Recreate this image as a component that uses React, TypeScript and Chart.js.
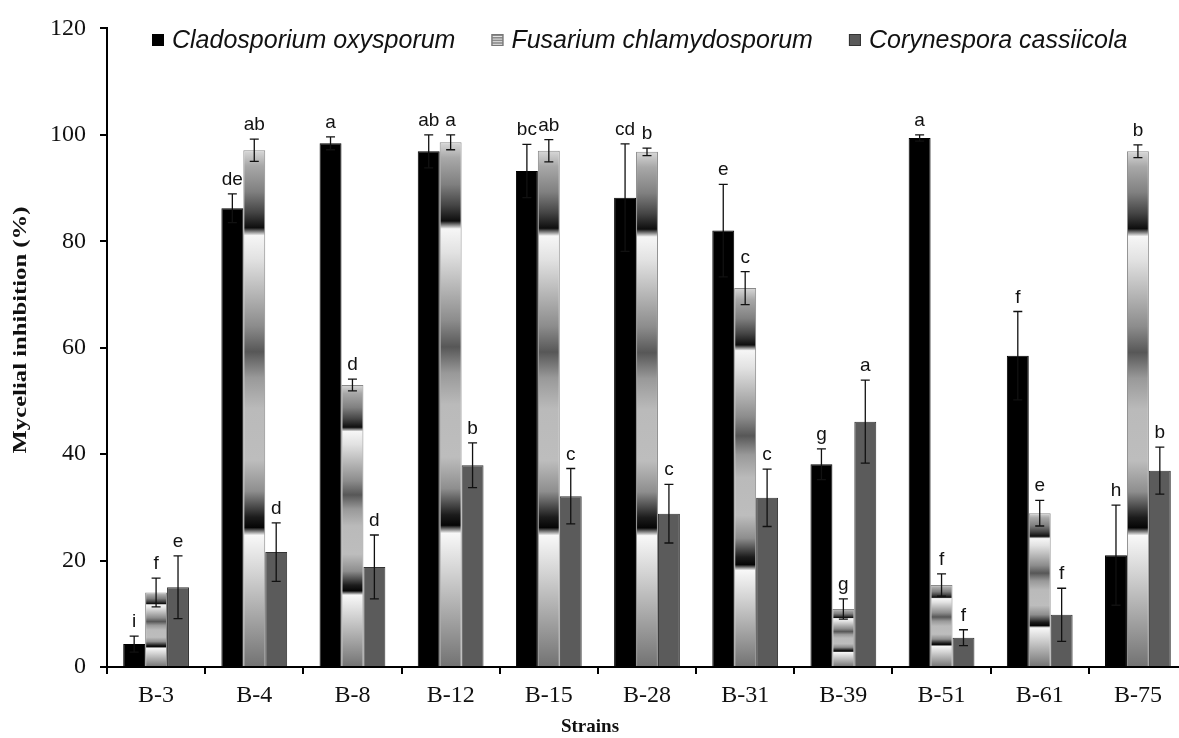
import React, { useEffect, useRef } from "react";
import { Chart, registerables } from "chart.js";

Chart.register(...registerables);

// ---------- data ----------
const strains = ["B-3", "B-4", "B-8", "B-12", "B-15", "B-28", "B-31", "B-39", "B-51", "B-61", "B-75"];
const seriesNames = ["Cladosporium oxysporum", "Fusarium chlamydosporum", "Corynespora cassiicola"];

const cladValues = [4.3, 86.2, 98.4, 96.9, 93.2, 88.2, 82.0, 38.1, 99.4, 58.5, 21.0];
const cladErrors = [1.5, 2.7, 1.2, 3.1, 5.0, 10.1, 8.7, 2.9, 0.6, 8.3, 9.4];
const cladLetters = ["i", "de", "a", "ab", "bc", "cd", "e", "g", "a", "f", "h"];

const fusValues = [14.0, 97.1, 53.0, 98.6, 97.0, 96.8, 71.2, 10.9, 15.4, 28.9, 96.9];
const fusErrors = [2.7, 2.1, 1.1, 1.4, 2.1, 0.7, 3.1, 1.9, 2.1, 2.4, 1.2];
const fusLetters = ["f", "ab", "d", "a", "ab", "b", "c", "g", "f", "e", "b"];

const corValues = [15.0, 21.6, 18.8, 37.9, 32.1, 28.8, 31.8, 46.1, 5.5, 9.8, 36.9];
const corErrors = [5.9, 5.5, 6.0, 4.2, 5.2, 5.5, 5.4, 7.8, 1.5, 5.0, 4.4];
const corLetters = ["e", "d", "d", "b", "c", "c", "c", "a", "f", "f", "b"];

const yMin = 0;
const yMax = 120;
const yStep = 20;

const xTitle = "Strains";
const yTitle = "Mycelial inhibition (%)";

// ---------- styles ----------
const SERIF = "'Liberation Serif', 'Times New Roman', serif";
const SANS = "'Liberation Sans', Arial, sans-serif";

const FUS_STOPS: [number, string][] = [
  [0.0, "#d8d8d8"],
  [0.03, "#a8a8a8"],
  [0.08, "#808080"],
  [0.12, "#454545"],
  [0.15, "#0e0e0e"],
  [0.165, "#f6f6f6"],
  [0.21, "#e2e2e2"],
  [0.28, "#b4b4b4"],
  [0.34, "#8c8c8c"],
  [0.39, "#575757"],
  [0.44, "#999999"],
  [0.5, "#bababa"],
  [0.6, "#bdbdbd"],
  [0.66, "#8e8e8e"],
  [0.71, "#1c1c1c"],
  [0.73, "#050505"],
  [0.745, "#f8f8f8"],
  [0.82, "#d2d2d2"],
  [0.91, "#a2a2a2"],
  [1.0, "#727272"],
];

const fusFill = (ctx: any) => {
  const chart = ctx.chart;
  const y = chart.scales && chart.scales.y;
  if (ctx.type !== "data" || !y || typeof ctx.raw !== "number") return "#9a9a9a";
  const top = y.getPixelForValue(ctx.raw);
  const bottom = y.getPixelForValue(0);
  if (!isFinite(top) || !isFinite(bottom) || bottom - top < 1) return "#9a9a9a";
  const g = chart.ctx.createLinearGradient(0, top, 0, bottom);
  FUS_STOPS.forEach(([o, c]) => g.addColorStop(o, c));
  return g;
};

const errorsBySeries = [cladErrors, fusErrors, corErrors];
const lettersBySeries = [cladLetters, fusLetters, corLetters];

const errorBarPlugin = {
  id: "errorBarsAndLetters",
  afterDatasetsDraw(chart: any) {
    const ctx = chart.ctx;
    const y = chart.scales.y;
    ctx.save();
    chart.data.datasets.forEach((ds: any, i: number) => {
      const meta = chart.getDatasetMeta(i);
      meta.data.forEach((bar: any, j: number) => {
        const v = ds.data[j] as number;
        const e = errorsBySeries[i][j];
        const x = bar.x;
        const yt = y.getPixelForValue(v + e);
        const yb = y.getPixelForValue(Math.max(0, v - e));
        ctx.strokeStyle = "#111";
        ctx.lineWidth = 1.3;
        ctx.beginPath();
        ctx.moveTo(x, yt);
        ctx.lineTo(x, yb);
        ctx.moveTo(x - 4.5, yt);
        ctx.lineTo(x + 4.5, yt);
        ctx.moveTo(x - 4.5, yb);
        ctx.lineTo(x + 4.5, yb);
        ctx.stroke();
        ctx.fillStyle = "#111";
        ctx.font = "19px " + SANS;
        ctx.textAlign = "center";
        ctx.textBaseline = "alphabetic";
        ctx.fillText(lettersBySeries[i][j], x, yt - 9);
      });
    });
    ctx.restore();
  },
};

const legendPlugin = {
  id: "insideLegend",
  afterDraw(chart: any) {
    const ctx = chart.ctx;
    const cy = 40;
    let x = 152;
    const box = 12;
    ctx.save();
    ctx.font = "italic 25px " + SANS;
    ctx.textBaseline = "middle";
    ctx.textAlign = "left";
    chart.data.datasets.forEach((ds: any, i: number) => {
      const bx = x;
      const by = cy - box / 2;
      if (i === 0) {
        ctx.fillStyle = "#000";
        ctx.fillRect(bx, by, box, box);
      } else if (i === 1) {
        ctx.fillStyle = "#8a8a8a";
        ctx.fillRect(bx, by, box, box);
        ctx.strokeStyle = "#e4e4e4";
        ctx.lineWidth = 1;
        for (let k = 2.5; k < box; k += 2.6) {
          ctx.beginPath();
          ctx.moveTo(bx + 1, by + k);
          ctx.lineTo(bx + box - 1, by + k);
          ctx.stroke();
        }
        ctx.strokeStyle = "#777";
        ctx.strokeRect(bx + 0.5, by + 0.5, box - 1, box - 1);
      } else {
        ctx.fillStyle = "#5a5a5a";
        ctx.fillRect(bx, by, box, box);
        ctx.strokeStyle = "#333";
        ctx.lineWidth = 1;
        ctx.strokeRect(bx + 0.5, by + 0.5, box - 1, box - 1);
      }
      ctx.fillStyle = "#111";
      const tx = bx + box + 8;
      ctx.fillText(ds.label, tx, cy + 1);
      x = tx + ctx.measureText(ds.label).width + 36;
    });
    ctx.restore();
  },
};

// axis titles (the y title is stretched along its length like the source figure)
const titlesPlugin = {
  id: "axisTitles",
  afterDraw(chart: any) {
    const ctx = chart.ctx;
    ctx.save();
    ctx.fillStyle = "#111";
    ctx.font = "bold 19px " + SERIF;
    ctx.textAlign = "center";
    ctx.textBaseline = "middle";
    ctx.fillText(xTitle, 590, 727);
    ctx.translate(21, 330);
    ctx.rotate(-Math.PI / 2);
    ctx.scale(1.3, 1);
    ctx.fillText(yTitle, 0, 0);
    ctx.restore();
  },
};

export default function App() {
  const ref = useRef<HTMLCanvasElement>(null);

  useEffect(() => {
    if (!ref.current) return;
    const chart = new Chart(ref.current, {
      type: "bar",
      data: {
        labels: strains,
        datasets: [
          {
            label: seriesNames[0],
            data: cladValues,
            backgroundColor: "#000000",
            borderColor: "#000000",
            borderWidth: 1,
          },
          {
            label: seriesNames[1],
            data: fusValues,
            backgroundColor: fusFill,
            borderColor: "#8a8a8a",
            borderWidth: 1,
          },
          {
            label: seriesNames[2],
            data: corValues,
            backgroundColor: "#5b5b5b",
            borderColor: "#333333",
            borderWidth: 1,
          },
        ],
      },
      options: {
        responsive: false,
        animation: false,
        devicePixelRatio: 1,
        layout: { padding: { top: 24, right: 13, bottom: 0, left: 0 } },
        datasets: {
          bar: { categoryPercentage: 0.67, barPercentage: 1.0 },
        },
        plugins: {
          legend: { display: false },
          tooltip: { enabled: false },
        },
        scales: {
          x: {
            grid: {
              display: true,
              drawOnChartArea: false,
              drawTicks: true,
              tickLength: 7,
              color: "#000",
              lineWidth: 2,
              offset: true,
            },
            border: { display: true, color: "#000", width: 2 },
            ticks: {
              color: "#111",
              font: { family: SERIF, size: 24 },
              padding: 7,
            },
            title: { display: false, text: xTitle },
            afterFit(scale: any) {
              scale.height = 71;
            },
          },
          y: {
            min: yMin,
            max: yMax,
            ticks: {
              stepSize: yStep,
              color: "#111",
              font: { family: SERIF, size: 24 },
              padding: 14,
            },
            grid: {
              display: true,
              drawOnChartArea: false,
              drawTicks: true,
              tickLength: 7,
              color: "#000",
              lineWidth: 2,
            },
            border: { display: true, color: "#000", width: 2 },
            title: { display: false, text: yTitle },
            afterFit(scale: any) {
              scale.width = 107;
            },
          },
        },
      },
      plugins: [errorBarPlugin, legendPlugin, titlesPlugin],
    } as any);
    return () => chart.destroy();
  }, []);

  return (
    <div
      style={{
        position: "fixed",
        left: 0,
        top: 0,
        width: 1179,
        height: 738,
        overflow: "hidden",
        background: "#fff",
      }}
    >
      <canvas ref={ref} width={1200} height={738} style={{ display: "block", width: 1200, height: 738 }} />
    </div>
  );
}
